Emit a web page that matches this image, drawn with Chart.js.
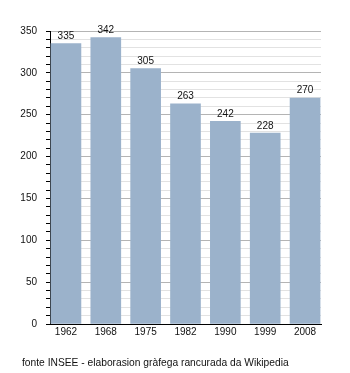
<!DOCTYPE html>
<html>
<head>
<meta charset="utf-8">
<script src="https://cdn.jsdelivr.net/npm/chart.js@4/dist/chart.umd.min.js"></script>
<style>
  html, body { margin: 0; padding: 0; background: #fff; }
  #wrap { position: relative; width: 350px; height: 373px; }
  #footer { position: absolute; left: 22px; top: 357px; font: 10.25px "Liberation Sans", Arial, sans-serif; line-height: 12px; color: #111; white-space: nowrap; }
</style>
</head>
<body>
<div id="wrap">
  <canvas id="c" width="350" height="373"></canvas>
  <div id="footer">fonte INSEE - elaborasion gràfega rancurada da Wikipedia</div>
</div>
<script>
const years = ['1962', '1968', '1975', '1982', '1990', '1999', '2008'];
const population = [335, 342, 305, 263, 242, 228, 270];
const yMin = 0;
const yMax = 350;
const yStep = 10;
const yLabelStep = 50;

const FONT = '"Liberation Sans", Arial, sans-serif';

const valueLabels = {
  id: 'valueLabels',
  afterDatasetsDraw(chart) {
    const ctx = chart.ctx;
    const meta = chart.getDatasetMeta(0);
    ctx.save();
    ctx.font = '10px ' + FONT;
    ctx.fillStyle = '#111';
    ctx.textAlign = 'center';
    ctx.textBaseline = 'alphabetic';
    meta.data.forEach((bar, i) => {
      ctx.fillText(String(population[i]), bar.x, bar.y - 4.5);
    });
    ctx.restore();
  }
};

new Chart(document.getElementById('c'), {
  type: 'bar',
  data: {
    datasets: [{
      data: population.map((v, i) => ({ x: i, y: v })),
      backgroundColor: '#9bb2cb',
      borderWidth: 0,
      barThickness: 30
    }]
  },
  options: {
    responsive: false,
    animation: false,
    layout: { padding: { left: 0, right: 29, top: 31, bottom: 35 } },
    plugins: { legend: { display: false }, tooltip: { enabled: false } },
    scales: {
      x: {
        type: 'linear',
        offset: false,
        min: -0.4,
        max: years.length - 0.6,
        afterBuildTicks(scale) {
          scale.ticks = years.map((_, i) => ({ value: i }));
        },
        afterFit(scale) { scale.height = 14; },
        grid: { display: false, offset: false, drawTicks: false, tickLength: 0 },
        border: { display: true, color: '#000', width: 1 },
        ticks: {
          autoSkip: false,
          maxRotation: 0,
          minRotation: 0,
          padding: 2,
          color: '#111',
          font: { family: FONT, size: 10 },
          callback: (v) => years[v] !== undefined ? years[v] : ''
        }
      },
      y: {
        min: yMin,
        max: yMax,
        afterFit(scale) { scale.width = 50; },
        grid: {
          color: (ctx) => (ctx.tick && ctx.tick.value % yLabelStep === 0) ? '#b4b4b4' : '#e2e2e2',
          tickColor: '#000',
          tickLength: 4,
          lineWidth: 1
        },
        border: { display: true, color: '#000', width: 1 },
        ticks: {
          stepSize: yStep,
          autoSkip: false,
          padding: 9,
          color: '#111',
          font: { family: FONT, size: 10 },
          callback: (v) => (v % yLabelStep === 0) ? String(v) : ''
        }
      }
    }
  },
  plugins: [valueLabels]
});
</script>
</body>
</html>
